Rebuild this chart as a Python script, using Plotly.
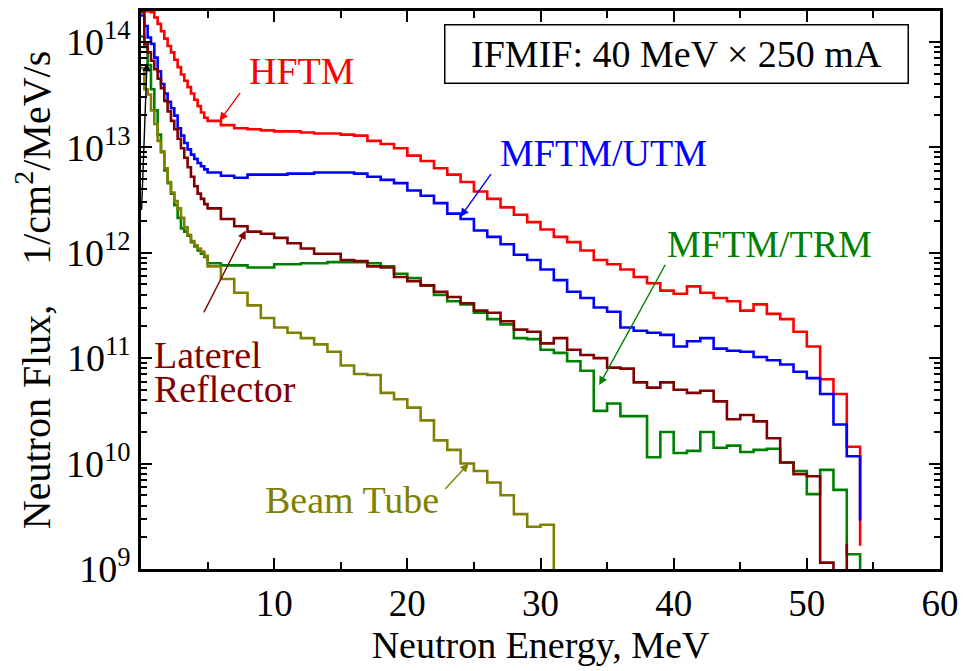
import plotly.graph_objects as go

# Bin start energies (MeV): 0.25 MeV bins up to 5 MeV, then 1 MeV bins
bin_start = [0.0, 0.25, 0.5, 0.75, 1.0, 1.25, 1.5, 1.75, 2.0, 2.25, 2.5, 2.75,
             3.0, 3.25, 3.5, 3.75, 4.0, 4.25, 4.5, 4.75,
             5, 6, 7, 8, 9, 10, 11, 12, 13, 14, 15, 16, 17, 18, 19, 20, 21, 22,
             23, 24, 25, 26, 27, 28, 29, 30, 31, 32, 33, 34, 35, 36, 37, 38, 39,
             40, 41, 42, 43, 44, 45, 46, 47, 48, 49, 50, 51, 52, 53]

# log10 of neutron flux (1/cm2/MeV/s)
hftm_log = [14.29, 14.29, 14.29, 14.28, 14.23, 14.17, 14.10, 14.03, 13.96, 13.90,
            13.83, 13.76, 13.69, 13.63, 13.57, 13.51, 13.45, 13.39, 13.33, 13.28,
            13.25, 13.21, 13.18, 13.17, 13.16, 13.15, 13.15, 13.14, 13.13, 13.13,
            13.12, 13.11, 13.06, 13.03, 12.99, 12.92, 12.87, 12.80, 12.74, 12.67,
            12.58, 12.51, 12.43, 12.36, 12.29, 12.22, 12.15, 12.10, 12.02, 11.93,
            11.89, 11.84, 11.77, 11.71, 11.64, 11.61, 11.68, 11.62, 11.57, 11.54,
            11.45, 11.51, 11.42, 11.37, 11.25, 11.11, 10.80, 10.66, 10.16]
hftm_end = (54, 9.22)

utm_log = [14.25, 14.15, 14.04, 13.98, 13.85, 13.72, 13.60, 13.51, 13.43, 13.37,
           13.30, 13.18, 13.11, 13.04, 12.98, 12.93, 12.89, 12.85, 12.82, 12.79,
           12.76, 12.73, 12.71, 12.74, 12.74, 12.74, 12.75, 12.75, 12.76, 12.76,
           12.76, 12.75, 12.72, 12.69, 12.66, 12.59, 12.54, 12.47, 12.37, 12.32,
           12.21, 12.15, 12.08, 11.98, 11.93, 11.84, 11.74, 11.63, 11.57, 11.48,
           11.44, 11.29, 11.26, 11.24, 11.22, 11.11, 11.16, 11.19, 11.09, 11.07,
           11.06, 11.01, 10.98, 10.94, 10.87, 10.81, 10.66, 10.37, 10.07]
utm_end = (54, 9.46)

lateral_log = [14.28, 13.98, 13.90, 13.82, 13.74, 13.65, 13.56, 13.44, 13.34, 13.25,
               13.17, 13.08, 12.99, 12.90, 12.81, 12.72, 12.63, 12.56, 12.51, 12.46,
               12.42, 12.32, 12.25, 12.20, 12.18, 12.14, 12.09, 12.04, 11.99, 11.99,
               11.93, 11.92, 11.87, 11.86, 11.77, 11.73, 11.69, 11.63, 11.58, 11.52,
               11.45, 11.43, 11.35, 11.27, 11.25, 11.14, 11.19, 11.08, 11.03, 11.00,
               10.91, 10.90, 10.77, 10.72, 10.77, 10.70, 10.67, 10.69, 10.59, 10.42,
               10.46, 10.40, 10.24, 10.01, 9.90, 9.88, 9.06, 8.00]
lateral_end = (53, 9.24)

trm_log = [14.05, 13.95, 13.78, 13.55, 13.35, 13.12, 12.96, 12.78, 12.66, 12.56,
           12.45, 12.33, 12.23, 12.20, 12.16, 12.10, 12.06, 12.02, 11.99, 11.96,
           11.90, 11.88, 11.88, 11.86, 11.86, 11.89, 11.89, 11.90, 11.90, 11.91,
           11.91, 11.91, 11.90, 11.87, 11.80, 11.76, 11.69, 11.60, 11.54, 11.51,
           11.43, 11.37, 11.32, 11.19, 11.18, 11.08, 11.05, 10.97, 10.88, 10.50,
           10.57, 10.45, 10.45, 10.06, 10.30, 10.10, 10.12, 10.30, 10.15, 10.17,
           10.11, 10.13, 10.14, 10.01, 9.93, 9.71, 9.94, 9.75, 9.14]
trm_end = (54, 8.0)

beam_log = [13.75, 13.55, 13.50, 13.35, 13.22, 13.06, 12.95, 12.80, 12.67, 12.57,
            12.49, 12.42, 12.33, 12.24, 12.17, 12.11, 12.07, 12.04, 12.01, 11.97,
            11.87, 11.75, 11.62, 11.50, 11.38, 11.29, 11.24, 11.19, 11.13, 11.06,
            10.93, 10.85, 10.84, 10.67, 10.61, 10.53, 10.41, 10.22, 10.13, 10.00,
            9.93, 9.82, 9.70, 9.52, 9.40, 9.42]
beam_end = (31, 8.0)

series = [
    ("HFTM", hftm_log, hftm_end, "#ff0000"),
    ("MFTM/UTM", utm_log, utm_end, "#0000ff"),
    ("MFTM/TRM", trm_log, trm_end, "#008000"),
    ("Beam Tube", beam_log, beam_end, "#808000"),
    ("Laterel Reflector", lateral_log, lateral_end, "#800000"),
]

x_tick_vals = [10, 20, 30, 40, 50, 60]
x_tick_text = ["10", "20", "30", "40", "50", "60"]
y_tick_vals = [1e9, 1e10, 1e11, 1e12, 1e13, 1e14]
y_tick_text = ["10<sup>9</sup>", "10<sup>10</sup>", "10<sup>11</sup>",
               "10<sup>12</sup>", "10<sup>13</sup>", "10<sup>14</sup>"]

FONT = "Liberation Serif"
FS = 38

fig = go.Figure()
for name, vals, end, color in series:
    xs = bin_start[:len(vals)] + [end[0]]
    ys = [10 ** v for v in vals] + [10 ** end[1]]
    fig.add_trace(go.Scatter(x=xs, y=ys, mode="lines", name=name,
                             line=dict(color=color, width=2.6, shape="hv"),
                             showlegend=False))

minor_y = [k * 10 ** n for n in range(9, 15) for k in range(2, 10)]

fig.update_layout(
    width=967, height=671,
    margin=dict(l=141, r=24, t=8, b=102),
    paper_bgcolor="white", plot_bgcolor="white",
    font=dict(family=FONT, size=FS, color="black"),
    xaxis=dict(range=[0, 60], tickmode="array", tickvals=x_tick_vals, ticktext=x_tick_text,
               ticks="inside", ticklen=11, tickwidth=2, tickcolor="black",
               showline=True, linecolor="black", linewidth=2.5, mirror="ticks",
               showgrid=False, zeroline=False,
               tickfont=dict(family=FONT, size=37),
               minor=dict(tickmode="linear", tick0=0, dtick=5, ticks="inside", ticklen=7,
                          tickwidth=1.5, tickcolor="black", showgrid=False),
               title=dict(text="Neutron Energy, MeV", font=dict(family=FONT, size=38), standoff=8)),
    yaxis=dict(type="log", range=[9, 14.292], tickmode="array", tickvals=y_tick_vals,
               ticktext=y_tick_text,
               ticks="inside", ticklen=11, tickwidth=2, tickcolor="black",
               showline=True, linecolor="black", linewidth=2.5, mirror="ticks",
               showgrid=False, zeroline=False,
               tickfont=dict(family=FONT, size=38),
               minor=dict(tickmode="array", tickvals=minor_y, ticks="inside", ticklen=6,
                          tickwidth=1.5, tickcolor="black", showgrid=False),
               title=dict(text="Neutron Flux,\u00a0\u00a0\u00a0 1/cm<sup>2</sup>/MeV/s",
                          font=dict(family=FONT, size=40), standoff=4)),
)

ann = []
# text labels
ann.append(dict(x=12.1, y=13.72, xref="x", yref="y", text="HFTM", showarrow=False,
                font=dict(family=FONT, size=38, color="#ff0000")))
ann.append(dict(x=34.7, y=12.95, xref="x", yref="y", text="MFTM/UTM", showarrow=False,
                font=dict(family=FONT, size=38, color="#0000ff")))
ann.append(dict(x=47.2, y=12.08, xref="x", yref="y", text="MFTM/TRM", showarrow=False,
                font=dict(family=FONT, size=38, color="#008000")))
ann.append(dict(x=0.85, y=11.03, xref="x", yref="y", text="Laterel", showarrow=False,
                xanchor="left", font=dict(family=FONT, size=38, color="#800000")))
ann.append(dict(x=0.85, y=10.71, xref="x", yref="y", text="Reflector", showarrow=False,
                xanchor="left", font=dict(family=FONT, size=38, color="#800000")))
ann.append(dict(x=15.86, y=9.65, xref="x", yref="y", text="Beam Tube", showarrow=False,
                font=dict(family=FONT, size=38, color="#808000")))
# arrows
arrows = [
    (5.9, 13.25, 7.53, 13.53, "#ff0000"),
    (23.99, 12.34, 26.36, 12.76, "#0000ff"),
    (34.41, 10.745, 39.43, 11.90, "#008000"),
    (7.86, 12.21, 4.66, 11.42, "#800000"),
    (24.6, 10.0, 22.74, 9.745, "#808000"),
    (0.45, 13.80, 0.04, 12.39, "#000000"),
]
for tx, ty, sx, sy, c in arrows:
    ann.append(dict(x=tx, y=ty, ax=sx, ay=sy, xref="x", yref="y", axref="x", ayref="y",
                    text="", showarrow=True, arrowhead=2, arrowsize=1.2, arrowwidth=1.4,
                    arrowcolor=c, standoff=0))
# boxed condition label
ann.append(dict(x=0.6708, y=0.9236, xref="paper", yref="paper", xanchor="center",
                yanchor="middle",
                text="IFMIF: 40 MeV \u00d7 250 mA", showarrow=False,
                font=dict(family=FONT, size=38, color="black"),
                bordercolor="black", borderwidth=1.5, borderpad=2, bgcolor="white",
                width=458, height=53))
fig.update_layout(annotations=ann)

fig.write_html("out.html")
